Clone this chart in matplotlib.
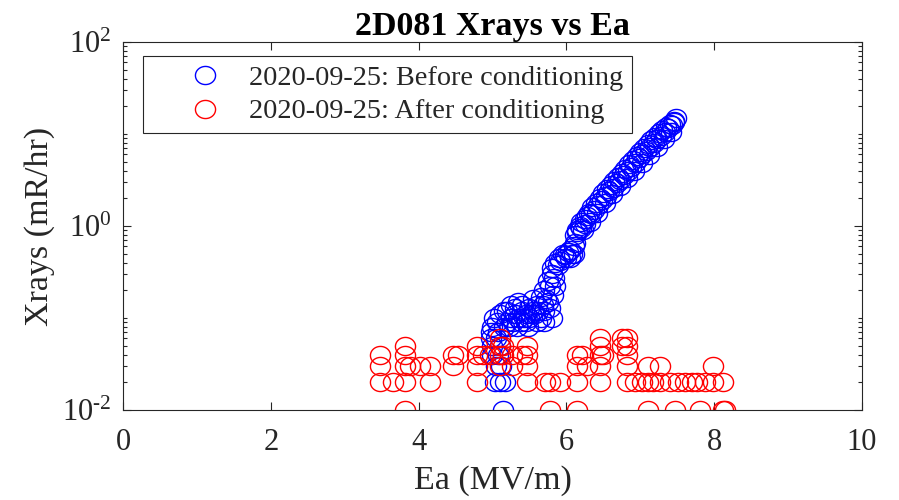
import numpy as np
import matplotlib
matplotlib.use("Agg")
import matplotlib.pyplot as plt
from matplotlib.path import Path
from matplotlib.ticker import LogLocator, NullFormatter, FixedLocator

plt.rcParams['font.family'] = ['Liberation Serif', 'DejaVu Serif']
plt.rcParams['mathtext.fontset'] = 'custom'
plt.rcParams['mathtext.rm'] = 'Liberation Serif'

# before conditioning (blue), Ea in MV/m, Xrays in mR/hr
before_ea = [5.14, 5.03, 5.10, 5.17, 5.05, 5.12, 5.00, 5.08, 5.00, 5.10, 4.98, 5.05,
             4.98, 5.08, 5.00, 5.06, 5.02,
             5.15, 5.20, 5.25, 5.30, 5.35, 5.40, 5.45, 5.50, 5.55, 5.60, 5.65, 5.70,
             5.75, 5.20, 5.30, 5.40, 5.50, 5.60, 5.70, 5.80, 5.25, 5.35, 5.45, 5.55,
             5.65, 5.70, 5.75, 5.80,
             5.10, 5.15, 5.22, 5.28, 5.33, 5.38, 5.42, 5.48, 5.52, 5.58, 5.62, 5.68,
             5.72, 5.78, 5.82, 5.85, 5.78, 5.83,
             5.80, 5.85, 5.90, 5.95, 6.00, 6.05, 6.10, 6.12, 6.15, 6.18, 6.20, 6.25,
             5.88, 5.92, 5.98, 6.02, 6.08, 6.12, 6.05,
             6.30, 6.35, 6.40, 6.45, 6.50, 6.55, 6.60, 6.65, 6.70, 6.75, 6.80, 6.85,
             6.90, 6.95, 7.00, 7.05, 7.10, 7.15, 7.20, 7.25, 7.30, 7.35, 7.40, 7.45,
             7.48,
             6.10, 6.22, 6.32, 6.42, 6.52, 6.62, 6.72, 6.82, 6.92, 7.02, 7.12, 7.22,
             7.32, 7.42,
             6.15, 6.20, 6.25, 6.28, 6.33, 6.38, 6.43, 6.48, 6.53, 6.58, 6.63, 6.68,
             6.73, 6.78, 6.83, 6.88, 6.93, 6.98, 7.03, 7.08, 7.13, 7.18, 7.23, 7.28,
             7.33, 7.38, 7.43, 7.46]
before_xr = [0.01, 0.02, 0.02, 0.02, 0.03, 0.03, 0.04, 0.04, 0.05, 0.05, 0.06, 0.06,
             0.07, 0.07, 0.08, 0.09, 0.10,
             0.08, 0.09, 0.10, 0.11, 0.10, 0.12, 0.11, 0.13, 0.12, 0.14, 0.10, 0.12,
             0.15, 0.12, 0.13, 0.14, 0.10, 0.09, 0.09, 0.10, 0.14, 0.15, 0.09, 0.16,
             0.17, 0.20, 0.25, 0.30,
             0.11, 0.12, 0.08, 0.09, 0.08, 0.09, 0.10, 0.08, 0.11, 0.11, 0.12, 0.14,
             0.16, 0.13, 0.18, 0.22, 0.22, 0.27,
             0.35, 0.40, 0.45, 0.50, 0.45, 0.55, 0.60, 0.80, 0.90, 1.0, 1.1, 1.2,
             0.38, 0.42, 0.48, 0.52, 0.50, 0.65, 0.45,
             1.4, 1.6, 1.8, 2.0, 2.3, 2.5, 2.8, 3.1, 3.4, 3.8, 4.2, 4.7,
             5.2, 5.8, 6.4, 7.0, 7.7, 8.5, 9.3, 10.2, 11.0, 12.0, 13.0, 14.0,
             14.8,
             0.50, 0.9, 1.1, 1.4, 1.8, 2.2, 2.7, 3.3, 4.0, 4.9, 5.9, 7.2,
             8.8, 10.5,
             0.85, 0.95, 1.05, 1.3, 1.35, 1.5, 1.7, 1.9, 2.1, 2.4, 2.6, 2.9,
             3.2, 3.6, 4.0, 4.4, 4.9, 5.5, 6.0, 6.6, 7.3, 8.0, 8.8, 9.6,
             10.5, 11.5, 12.5, 13.5]

# after conditioning (red)
after_ea = [3.48, 3.48, 3.48, 3.65, 3.82, 3.82, 3.82, 3.82, 3.82, 3.88, 4.02, 4.15,
            4.15, 4.47, 4.47, 4.53, 4.79, 4.79, 4.79, 4.79, 4.87, 4.97, 5.10, 5.10,
            5.10, 5.10, 5.14, 5.14, 5.26, 5.26, 5.40, 5.47, 5.47, 5.47, 5.47, 5.71,
            5.78, 5.78, 5.91, 6.14, 6.14, 6.14, 6.14, 6.21, 6.28, 6.45, 6.45, 6.45,
            6.45, 6.45, 6.50, 6.75, 6.75, 6.82, 6.82, 6.82, 6.82, 6.82, 6.93, 7.02,
            7.10, 7.10, 7.10, 7.17, 7.27, 7.27, 7.40, 7.47, 7.51, 7.60, 7.70, 7.77,
            7.81, 7.88, 7.98, 7.98, 8.12, 8.12, 8.15]
after_xr = [0.04, 0.03, 0.02, 0.02, 0.05, 0.04, 0.03, 0.02, 0.01, 0.03, 0.03, 0.03,
            0.02, 0.04, 0.03, 0.04, 0.05, 0.04, 0.03, 0.02, 0.04, 0.04, 0.06, 0.05,
            0.04, 0.03, 0.05, 0.04, 0.04, 0.03, 0.04, 0.05, 0.04, 0.03, 0.02, 0.02,
            0.02, 0.01, 0.02, 0.04, 0.03, 0.02, 0.01, 0.04, 0.03, 0.06, 0.05, 0.04,
            0.03, 0.02, 0.04, 0.06, 0.05, 0.06, 0.05, 0.04, 0.03, 0.02, 0.02, 0.02,
            0.03, 0.02, 0.01, 0.02, 0.03, 0.02, 0.02, 0.01, 0.02, 0.02, 0.02, 0.02,
            0.01, 0.02, 0.03, 0.02, 0.02, 0.01, 0.01]

x_ticks = [0, 2, 4, 6, 8, 10]
y_ticks = [1e-2, 1e0, 1e2]
y_labels = [r'$\mathregular{10^{\text{-}2}}$', r'$\mathregular{10^{0}}$',
            r'$\mathregular{10^{2}}$']

# slightly wide open circle, like the stretched reference
t = np.linspace(0, 2 * np.pi, 60)
ring = Path(np.column_stack([np.cos(t), 0.9 * np.sin(t)]), closed=True)

fig = plt.figure(figsize=(8.99, 5.0), dpi=100)
ax = fig.add_axes([0.1368, 0.18, 0.822, 0.736])

axcol = '#262626'
ax.plot(before_ea, before_xr, ls='none', marker=ring, ms=14.5, mfc='none',
        mec='#0000ff', mew=1.0, label='2020-09-25: Before conditioning')
ax.plot(after_ea, after_xr, ls='none', marker=ring, ms=14.5, mfc='none',
        mec='#ff0000', mew=1.0, label='2020-09-25: After conditioning')

ax.set_yscale('log')
ax.set_xlim(0, 10)
ax.set_ylim(1e-2, 1e2)
ax.set_xticks(x_ticks)
ax.set_xticklabels([str(v) for v in x_ticks])
ax.yaxis.set_major_locator(FixedLocator(y_ticks))
ax.set_yticklabels(y_labels)
ax.yaxis.set_minor_locator(LogLocator(base=10, subs=np.arange(1, 10), numticks=20))
ax.yaxis.set_minor_formatter(NullFormatter())

ax.tick_params(which='both', direction='in', top=True, right=True, colors=axcol,
               labelsize=22, width=0.8)
ax.tick_params(which='major', length=6)
ax.tick_params(axis='x', which='major', pad=13)
ax.tick_params(axis='y', which='major', pad=8)
ax.tick_params(which='minor', length=3)
for s in ax.spines.values():
    s.set_color(axcol)
    s.set_linewidth(0.8)

ax.set_xlabel('Ea (MV/m)', fontsize=24.5, color=axcol, labelpad=6)
ax.set_ylabel('Xrays (mR/hr)', fontsize=24.5, color=axcol, labelpad=5)
ax.set_title('2D081 Xrays vs Ea', fontsize=24.5, fontweight='bold', pad=3)

leg = ax.legend(loc='upper left', bbox_to_anchor=(0.027, 0.962), fontsize=20.3,
                frameon=True, fancybox=False, framealpha=1, edgecolor='#262626',
                borderpad=0.32, handletextpad=-0.33, labelspacing=0.28,
                handlelength=3.76, borderaxespad=0)
leg.get_frame().set_linewidth(0.8)
for txt in leg.get_texts():
    txt.set_color(axcol)

fig.savefig('out.png', dpi=100)
